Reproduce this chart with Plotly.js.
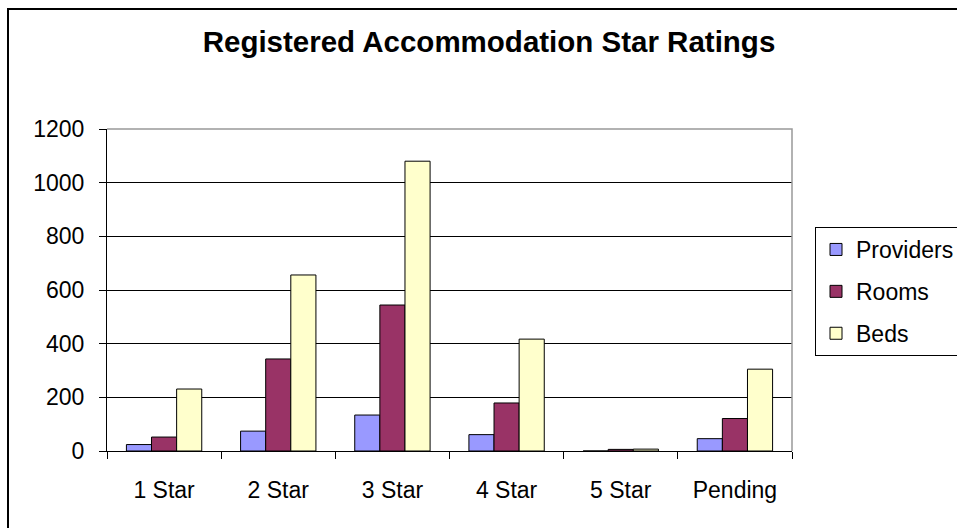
<!DOCTYPE html>
<html>
<head>
<meta charset="utf-8">
<script src="https://cdn.plot.ly/plotly-3.0.1.min.js"></script>
<style>html,body{margin:0;padding:0;background:#fff;}#chart{width:957px;height:528px;}</style>
</head>
<body>
<div id="chart"></div>
<script>
const categories = ["1 Star", "2 Star", "3 Star", "4 Star", "5 Star", "Pending"];
const providers = [24, 74, 134, 61, 0, 46];
const rooms = [52, 343, 544, 179, 6, 121];
const beds = [231, 656, 1080, 417, 7, 305];
const yTicks = [0, 200, 400, 600, 800, 1000, 1200];

const FONT = "Liberation Sans, Arial, sans-serif";

function barTrace(name, values, color) {
  return {
    type: "bar", name: name, x: categories, y: values, legendgroup: name,
    marker: {color: color, line: {color: "#000", width: 1}},
    hoverinfo: "x+y+name"
  };
}

const data = [
  barTrace("Providers", providers, "#9999FF"),
  barTrace("Rooms", rooms, "#993366"),
  barTrace("Beds", beds, "#FFFFCC")
];

const L = 107, R = 792, T = 129, B = 451, W = 957, H = 528;
const pw = R - L, ph = B - T;
const px = v => (v - L) / pw;
const py = v => (B - v) / ph;

const layout = {
  width: W, height: H,
  margin: {l: L, r: W - R, t: T, b: H - B, pad: 0, autoexpand: false},
  paper_bgcolor: "#fff", plot_bgcolor: "#fff",
  font: {family: FONT, color: "#000", size: 23},
  title: {
    text: "<b>Registered Accommodation Star Ratings</b>",
    font: {family: FONT, size: 29.5, color: "#000"},
    xref: "container", x: 489 / W, xanchor: "center",
    yref: "container", y: 1 - 42 / H, yanchor: "middle"
  },
  barmode: "group", bargap: 0.34, bargroupgap: 0,
  xaxis: {
    type: "category", showgrid: false, showline: true, linecolor: "#000", linewidth: 1,
    ticks: "outside", tickson: "boundaries", ticklen: 7, tickcolor: "#000", tickwidth: 1,
    ticklabelstandoff: 18, tickfont: {size: 23}, fixedrange: true
  },
  yaxis: {
    range: [0, 1200], tickvals: yTicks, ticktext: yTicks.map(String),
    showgrid: true, gridcolor: "#000", gridwidth: 1, zeroline: false,
    showline: true, linecolor: "#000", linewidth: 1,
    ticks: "outside", ticklen: 7, tickcolor: "#000", tickwidth: 1,
    ticklabelstandoff: 10, tickfont: {size: 23}, fixedrange: true
  },
  legend: {
    x: px(815), xanchor: "left", y: py(227), yanchor: "top",
    bgcolor: "#fff", bordercolor: "#000", borderwidth: 1,
    font: {family: FONT, size: 23, color: "#000"},
    tracegroupgap: 9, traceorder: "grouped"
  },
  shapes: [
    {type: "path", xref: "paper", yref: "paper", path: "M0,1L1,1L1,0",
     line: {color: "#999", width: 1.5}, layer: "above"},
    {type: "rect", xref: "paper", yref: "paper",
     x0: px(8), x1: px(1000), y0: py(540), y1: py(9),
     line: {color: "#000", width: 2}, layer: "above"}
  ],
  showlegend: true
};

Plotly.newPlot("chart", data, layout, {displayModeBar: false, staticPlot: true});
</script>
</body>
</html>
